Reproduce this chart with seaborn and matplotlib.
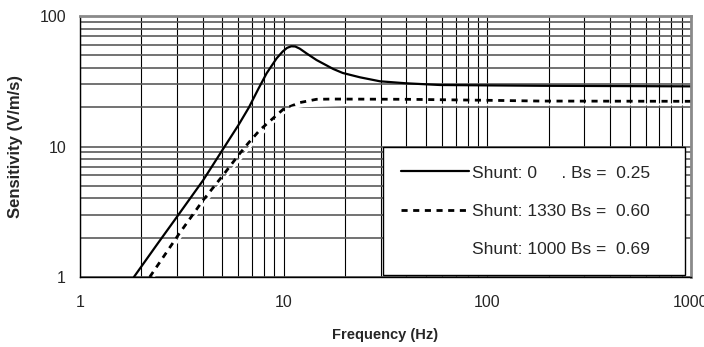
import numpy as np
import pandas as pd
import matplotlib
matplotlib.use("Agg")
import matplotlib.pyplot as plt
import seaborn as sns

# values (frequency in Hz, sensitivity in V/m/s)
freq_shunt_0 = [1.84, 2.38, 3.04, 4.03, 5.05, 6.0, 6.75, 7.5, 8.25, 9.24, 9.9, 10.4,
                10.9, 11.4, 12.0, 13.0, 14.5, 17.5, 19.5, 23.7, 29.7, 40, 58.5,
                100, 181, 1000]
sens_shunt_0 = [1.00, 1.76, 2.99, 5.53, 9.6, 14.6, 19.9, 27.5, 36.4, 47.4, 53.5, 57.0,
                58.6, 58.4, 56.2, 51.5, 46.0, 39.3, 36.6, 33.9, 31.6, 30.5, 29.6,
                29.4, 29.2, 28.9]

freq_shunt_1330 = [2.2, 3.04, 4.03, 5.05, 6.1, 6.7, 7.65, 9.96, 12.0, 14.5, 17.5,
                   40, 100, 181, 1000]
sens_shunt_1330 = [1.0, 2.1, 3.89, 6.05, 8.87, 10.6, 13.4, 19.3, 21.7, 23.0, 23.1,
                   23.0, 22.6, 22.3, 22.2]

freq_shunt_1000 = [2.3, 3.1, 4.1, 5.2, 6.8, 8.6, 10.0, 11.0, 12.5, 20, 100, 1000]
sens_shunt_1000 = [1.0, 2.0, 3.7, 5.8, 9.8, 14.6, 18.0, 19.8, 20.4, 20.8, 20.9, 21.0]

labels = ["Shunt: 0     . Bs =  0.25",
          "Shunt: 1330 Bs =  0.60",
          "Shunt: 1000 Bs =  0.69"]

sns.set_theme(style="white")
plt.rcParams["font.family"] = ["Liberation Sans", "DejaVu Sans"]

fig = plt.figure(figsize=(7.04, 3.47), dpi=100)
ax = fig.add_axes([0.1136, 0.2017, 0.8679, 0.7522])

df0 = pd.DataFrame({"f": freq_shunt_0, "s": sens_shunt_0})
df1 = pd.DataFrame({"f": freq_shunt_1330, "s": sens_shunt_1330})
df2 = pd.DataFrame({"f": freq_shunt_1000, "s": sens_shunt_1000})

sns.lineplot(data=df0, x="f", y="s", ax=ax, color="black", lw=1.6, label=labels[0])
sns.lineplot(data=df1, x="f", y="s", ax=ax, color="black", lw=2.0,
             linestyle=(0, (2.2, 2.0)), label=labels[1])
sns.lineplot(data=df2, x="f", y="s", ax=ax, color="white", lw=1.6, label=labels[2])

ax.set_xscale("log")
ax.set_yscale("log")
ax.set_xlim(1, 1000)
ax.set_ylim(1, 100)

# grid: every decade subdivision, like the spreadsheet original
ax.set_axisbelow(True)
ax.grid(which="both", axis="x", color="black", lw=0.8)
ax.grid(which="both", axis="y", color="#5a5a5a", lw=1.2)

ax.set_xticks([1, 10, 100, 1000])
ax.set_xticklabels(["1", "10", "100", "1000"])
ax.set_yticks([1, 10, 100])
ax.set_yticklabels(["1", "10", "100"])
ax.tick_params(axis="both", which="major", direction="out", length=5, width=1,
               color="black", labelsize=11.5)
ax.tick_params(axis="x", which="major", pad=8)
ax.tick_params(axis="y", which="major", pad=5)
ax.tick_params(which="minor", length=0)

for side in ["left", "bottom"]:
    ax.spines[side].set_color("black")
    ax.spines[side].set_linewidth(1.0)
for side in ["top", "right"]:
    ax.spines[side].set_color("#8a8a8a")
    ax.spines[side].set_linewidth(2.0)

ax.set_xlabel("Frequency (Hz)", fontsize=10.5, fontweight="bold", labelpad=13)
ax.set_ylabel("Sensitivity (V/m/s)", fontsize=12, fontweight="bold", labelpad=12)

leg = ax.legend(loc="lower left", bbox_to_anchor=(0.496, 0.008, 0.494, 0.45),
                mode="expand", fontsize=12.5,
                frameon=True, fancybox=False, edgecolor="black", framealpha=1,
                handlelength=3.9, handletextpad=0.15, labelspacing=1.32,
                borderpad=1.05, borderaxespad=0)
leg.get_frame().set_linewidth(1.0)

plt.savefig("out.png", dpi=100)
plt.close()
